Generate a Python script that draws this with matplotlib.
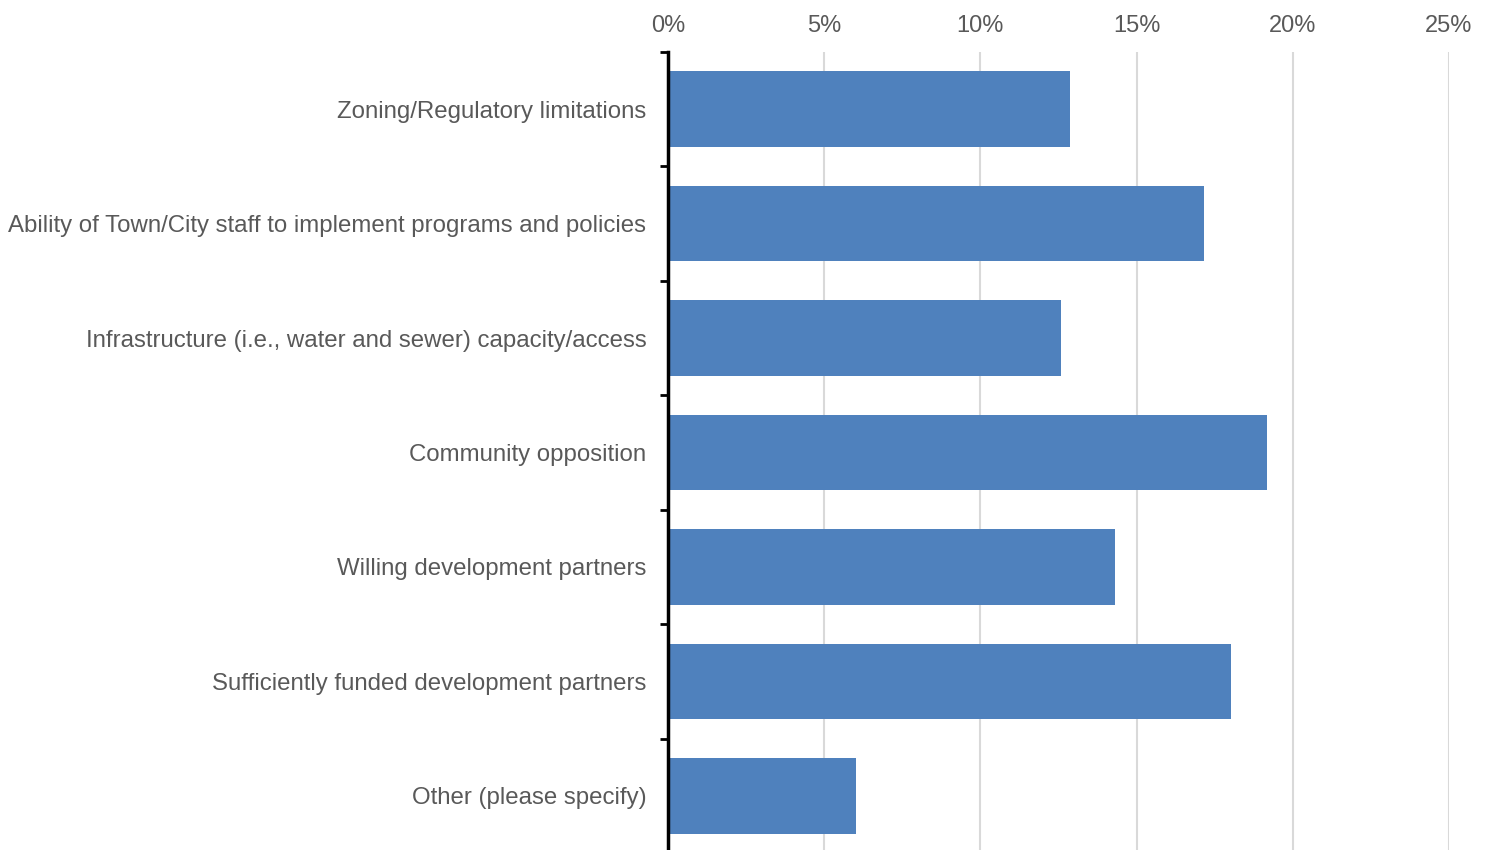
import matplotlib.pyplot as plt
from matplotlib.ticker import FuncFormatter

# Données
categories = ['Zoning/Regulatory limitations',
              'Ability of Town/City staff to implement programs and policies',
              'Infrastructure (i.e., water and sewer) capacity/access',
              'Community opposition',
              'Willing development partners',
              'Sufficiently funded development partners',
              'Other (please specify)']
valeurs = [12.87, 17.16, 12.58, 19.17, 14.31, 18.02, 6.02]
ticks_x = [0, 5, 10, 15, 20, 25]

plt.rcParams['font.family'] = ['Liberation Sans', 'DejaVu Sans']
gris = '#595959'

fig = plt.figure(figsize=(14.92, 8.5), dpi=100)
ax = fig.add_axes([668/1492, -3/850, (1449-668)/1492, 801/850])

y = list(range(len(categories)))
ax.barh(y, valeurs, height=0.66, color='#4F81BD', zorder=3)
ax.set_ylim(len(categories) - 0.5, -0.5)
ax.set_xlim(0, 25)

ax.set_xticks(ticks_x)
ax.xaxis.set_major_formatter(FuncFormatter(lambda v, p: '{:.0f}%'.format(v)))
ax.xaxis.tick_top()
ax.tick_params(axis='x', length=0, pad=10.5, labelsize=17, labelcolor=gris)
ax.grid(axis='x', color='#D9D9D9', lw=1.5, zorder=0)

# graduations aux limites des catégories
ax.set_yticks([i - 0.5 for i in range(len(categories) + 1)])
ax.set_yticklabels([])
ax.set_yticks(y, minor=True)
ax.set_yticklabels(categories, minor=True)
ax.tick_params(axis='y', which='major', length=6, width=2, color='black', direction='out')
ax.tick_params(axis='y', which='minor', length=0, pad=15.5, labelsize=17.3, labelcolor=gris)

for s in ['top', 'right', 'bottom']:
    ax.spines[s].set_visible(False)
ax.spines['left'].set_linewidth(2.5)
ax.spines['left'].set_color('black')
ax.spines['left'].set_zorder(4)

fig.savefig('out.png', dpi=100)
